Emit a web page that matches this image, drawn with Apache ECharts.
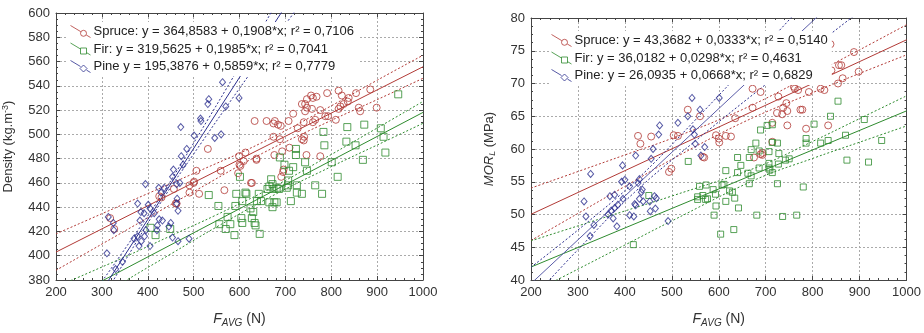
<!DOCTYPE html>
<html>
<head>
<meta charset="utf-8">
<script src="https://cdn.jsdelivr.net/npm/echarts@6/dist/echarts.min.js"></script>
<style>
html, body { margin: 0; background: #fff; }
#chart { width: 924px; height: 333px; }
</style>
</head>
<body>
<div id="chart"></div>
<script>
// 颜色
var cSpruce = '#b23a36', cFir = '#2e8b2e', cPine = '#2c2f8e';

// 左图: Density vs F_AVG
var spruceDensity = [[318,431],[327,422],[425,449],[430,448],[461,443],[457,455],[463,443],[491,458],[491,452],[500,460],[501,461],[506,470],[512,451],[531,488],[559,470],[567,454],[597,468],[600,475],[599,482],[613,485],[625,460],[637,479],[627,460],[602,474],[609,478],[633,511],[637,480],[659,511],[674,509],[677,511],[684,508],[690,507],[674,498],[688,496],[676,483],[693,486],[691,465],[696,471],[707,511],[709,489],[717,517],[727,505],[736,525],[743,525],[747,529],[747,522],[743,519],[756,532],[760,530],[758,521],[740,510],[760,510],[765,512],[736,496],[740,495],[741,498],[746,483],[768,531],[776,520],[787,515],[793,515],[791,534],[776,482],[810,512],[816,521],[820,523],[816,536],[823,532],[827,525],[836,527],[838,530],[854,534],[860,522],[863,519],[885,537],[899,522],[695,469]];
var firDensity = [[406,423],[417,417],[449,422],[533,450],[554,441],[556,426],[570,422],[574,432],[580,426],[589,417],[591,441],[593,451],[601,465],[604,431],[606,427],[606,445],[613,452],[615,451],[624,439],[627,431],[630,436],[633,427],[635,425],[638,445],[642,451],[644,418],[647,445],[661,455],[665,457],[665,444],[669,463],[672,459],[672,440],[674,455],[676,444],[681,456],[681,444],[686,455],[688,481],[698,475],[703,456],[706,462],[706,458],[708,470],[712,445],[717,473],[723,488],[723,483],[725,458],[725,452],[736,451],[743,477],[747,470],[765,458],[780,451],[783,502],[785,491],[801,477],[814,465],[833,494],[835,506],[853,491],[869,479],[872,508],[908,505],[914,498],[918,485],[946,533]];
var pineDensity = [[311,402],[314,432],[325,427],[326,421],[330,389],[345,395],[370,414],[378,416],[378,443],[381,408],[383,429],[385,436],[386,412],[392,435],[393,416],[395,459],[396,421],[401,442],[405,439],[405,408],[414,435],[420,421],[421,425],[424,456],[425,430],[429,452],[432,429],[436,456],[446,424],[450,427],[454,415],[454,465],[456,471],[463,459],[463,443],[464,447],[466,437],[466,412],[470,460],[472,506],[473,482],[477,475],[485,488],[490,414],[501,499],[515,513],[516,511],[531,525],[533,529],[546,497],[560,500],[563,543],[570,523],[599,530]];

// 回归线与置信带
var spruceDensityFit = [[200,403.0],[1000,555.7]];
var spruceDensityUp = [[200,418],[300,434.6],[400,451.2],[500,467.8],[650,493.4],[800,523.5],[900,544.6],[1000,565.2]];
var spruceDensityLo = [[200,388],[300,409.6],[400,431.2],[500,452.8],[650,484.4],[800,511.5],[900,528.6],[1000,546.2]];
var firDensityFit = [[200,359.3],[1000,518.1]];
var firDensityUp = [[200,374.3],[350,399.0],[450,416.4],[550,433.7],[680,458.0],[800,483.4],[900,505.2],[1000,527.1]];
var firDensityLo = [[200,344.0],[350,379.0],[450,401.4],[550,423.7],[680,451.0],[800,473.4],[900,491.2],[1000,509.1]];
var pineDensityFit = [[300,371.2],[750,634.8]];
var pineDensityUp = [[300,378.7],[350,405.5],[430,449.8],[500,492.8],[600,555.9],[700,620.5],[750,653.0]];
var pineDensityLo = [[300,363.7],[350,395.5],[430,444.8],[500,483.8],[600,537.9],[700,590.5],[750,616.8]];

// 右图: MOR vs F_AVG
var spruceMor = [[428,62],[433,60.8],[456,61.9],[494,56.5],[499,57],[504,62.1],[513,62],[534,66],[560,65],[566,58.8],[569,58.7],[594,62.1],[600,61.6],[601,61],[615,62],[626,61.9],[635,64.7],[672,66.3],[672,69.2],[675,58.7],[689,68.7],[689,59.2],[693,59.4],[707,70.5],[714,64],[714,61.1],[724,65.5],[727,68],[735,65.3],[737,66.3],[744,67],[746,65.8],[746,63.6],[757,70.4],[760,69.5],[762,69.2],[769,69],[774,66],[778,66],[786,63.1],[792,68.7],[817,69.2],[825,69],[833,63.6],[838,76],[840,72],[854,70],[856,72.8],[861,72.8],[864,70.8],[888,74.8],[898,71.8],[693,59.1]];
var firMor = [[418,45.4],[451,52.9],[535,58.1],[555,52.7],[555,52.3],[559,54.3],[566,52.9],[572,52.3],[573,54.5],[576,52.4],[588,53.8],[590,49.9],[593,53.1],[594,51.3],[604,47],[607,54.5],[611,54.6],[615,56.7],[615,52],[623,53.6],[629,53.4],[632,47.7],[634,52.5],[640,58.7],[640,56.4],[642,51],[647,57.5],[662,56.3],[665,58.7],[665,54.7],[669,59.9],[669,55.9],[679,60.9],[681,49.9],[686,59.7],[686,57.1],[689,62.9],[703,63.6],[707,59.6],[707,57.8],[707,57.1],[709,56.8],[714,63.7],[714,61],[714,56.4],[725,60.9],[725,54.7],[727,57.7],[728,59.3],[736,49.7],[742,58.3],[750,58.5],[766,49.9],[780,54.2],[786,61.6],[786,60.9],[803,63.8],[817,60.9],[833,61.3],[838,65],[854,67.3],[870,62.1],[873,58.3],[910,64.5],[919,58],[947,61.3]];
var pineMor = [[313,52],[317,49.7],[326,46.7],[327,56.2],[334,48.4],[364,50],[368,52.8],[371,50.6],[375,49.4],[378,53],[378,51],[383,48.2],[385,51.5],[393,55],[395,57.5],[396,52.4],[400,55.3],[410,54.3],[410,49.9],[419,49.7],[421,51.6],[423,59],[423,51.4],[428,54.8],[431,55.4],[431,52.4],[435,53.4],[437,53.8],[439,52],[453,52],[454,50.5],[456,58.5],[460,60],[463,52.8],[465,50.9],[467,52.5],[472,62.2],[474,63.6],[492,49],[513,64],[534,65],[543,67.8],[545,63],[548,62.2],[550,60.8],[560,66],[562,59],[570,60.3],[601,67.8]];

var spruceMorFit = [[200,50.03],[1000,76.67]];
var spruceMorUp = [[200,54.03],[300,56.56],[400,59.09],[500,61.62],[650,66.01],[800,71.41],[900,75.14],[1000,78.97]];
var spruceMorLo = [[200,46.03],[300,50.16],[400,54.29],[500,58.42],[650,64.01],[800,68.61],[900,71.54],[1000,74.37]];
var firMorFit = [[200,41.98],[1000,65.82]];
var firMorUp = [[200,45.98],[300,48.26],[400,50.54],[500,52.82],[680,57.18],[800,61.16],[900,64.64],[1000,68.12]];
var firMorLo = [[200,37.98],[300,41.66],[400,45.34],[500,49.02],[680,55.38],[800,58.56],[900,61.04],[1000,63.52]];
var pineMorFit = [[200,39.45],[900,86.21]];
var pineMorUp = [[200,41.95],[300,47.63],[420,54.95],[550,64.43],[700,75.85],[800,83.63],[900,91.41]];
var pineMorLo = [[200,36.95],[300,44.63],[420,53.35],[550,61.23],[700,69.85],[800,75.43],[900,81.01]];

var namesDensity = ['Spruce: y = 364,8583 + 0,1908*x; r² = 0,7106', 'Fir: y = 319,5625 + 0,1985*x; r² = 0,7041', 'Pine y = 195,3876 + 0,5859*x; r² = 0,7779'];
var namesMor = ['Spruce: y = 43,3682 + 0,0333*x; r² = 0,5140', 'Fir: y = 36,0182 + 0,0298*x; r² = 0,4631', 'Pine: y = 26,0935 + 0,0668*x; r² = 0,6829'];

var iconCircle = 'path://M0,0L10.2,6.1M15.8,9.5L20,12M16,7.8A3,3,0,1,1,10,7.8A3,3,0,1,1,16,7.8Z';
var iconRect = 'path://M0,0L10,6M16,9.6L20,12M10,5L16,5L16,11L10,11Z';
var iconDiamond = 'path://M0,0L10,6M16,9.6L20,12M13,4.5L16.5,8L13,11.5L9.5,8Z';

var font = 'Liberation Sans, Arial, sans-serif';

function scatter(name, data, symbol, size, color, i) {
    return {
        name: name, type: 'scatter', xAxisIndex: i, yAxisIndex: i,
        data: data, symbol: symbol, symbolSize: size, z: 3,
        itemStyle: { color: 'rgba(0,0,0,0)', borderColor: color, borderWidth: 1 }
    };
}
function fit(data, color, dotted, i) {
    return {
        type: 'line', xAxisIndex: i, yAxisIndex: i, data: data,
        symbol: 'none', smooth: dotted ? 0.4 : false, silent: true, z: 2,
        lineStyle: { color: color, width: 1, type: dotted ? [2, 2] : 'solid' }
    };
}
function xAx(grid, pos) {
    var main = pos === 'bottom';
    return {
        type: 'value', gridIndex: grid, position: pos, min: 200, max: 1000, interval: 100,
        name: main ? '{i|F}{s|AVG}{n| (N)}' : '', nameLocation: 'middle', nameGap: 31,
        nameTextStyle: { color: '#333', fontFamily: font, rich: {
            i: { fontStyle: 'italic', fontSize: 14, color: '#333', fontFamily: font },
            s: { fontStyle: 'italic', fontSize: 10, color: '#333', fontFamily: font, padding: [7, 0, 0, 0] },
            n: { fontSize: 14, color: '#333', fontFamily: font } } },
        axisLine: { show: true, onZero: false, lineStyle: { color: '#444', width: 1 } },
        axisTick: { show: true, inside: true, length: 4, lineStyle: { color: '#444' } },
        minorTick: { show: true, splitNumber: 5, length: 2, lineStyle: { color: '#444' } },
        axisLabel: { show: main, color: '#333', fontSize: 13, margin: 6, fontFamily: font,
            formatter: function (v) { return String(v); } },
        splitLine: { show: main, lineStyle: { color: '#aaaaaa', type: [2, 2] } }
    };
}
function yAx(grid, pos, min, max, step, name, gap) {
    var main = pos === 'left';
    return {
        type: 'value', gridIndex: grid, position: pos, min: min, max: max, interval: step,
        name: main ? name : '', nameLocation: 'middle', nameRotate: 90, nameGap: gap,
        nameTextStyle: { color: '#333', fontSize: 13, fontFamily: font, rich: {
            i: { fontStyle: 'italic', fontSize: 13, color: '#333', fontFamily: font },
            s: { fontStyle: 'italic', fontSize: 9, color: '#333', fontFamily: font, padding: [6, 0, 0, 0] },
            sup: { fontSize: 9, color: '#333', fontFamily: font, padding: [0, 0, 6, 0] },
            n: { fontSize: 13, color: '#333', fontFamily: font } } },
        axisLine: { show: true, onZero: false, lineStyle: { color: '#444', width: 1 } },
        axisTick: { show: true, inside: true, length: 4, lineStyle: { color: '#444' } },
        minorTick: { show: true, splitNumber: 4, length: 2, lineStyle: { color: '#444' } },
        axisLabel: { show: main, color: '#333', fontSize: 13, margin: 6, fontFamily: font,
            formatter: function (v) { return String(v); } },
        splitLine: { show: main, lineStyle: { color: '#aaaaaa', type: [2, 2] } }
    };
}
function legend(names, left, top) {
    var icons = [iconCircle, iconRect, iconDiamond];
    var colors = [cSpruce, cFir, cPine];
    return {
        orient: 'vertical', left: left, top: top, itemWidth: 20, itemHeight: 12, itemGap: 4.5,
        backgroundColor: '#fff', padding: [3, 4, 3, 2], selectedMode: false,
        textStyle: { color: '#222', fontSize: 13, fontFamily: font, padding: [0, 0, 0, -2] },
        data: names.map(function (n, k) {
            return { name: n, icon: icons[k],
                itemStyle: { color: 'rgba(0,0,0,0)', borderColor: colors[k], borderWidth: 1 } };
        })
    };
}

var chart = echarts.init(document.getElementById('chart'));
chart.setOption({
    backgroundColor: '#fff',
    animation: false,
    grid: [
        { left: 55, top: 13, width: 368, height: 271 },
        { left: 531, top: 18, width: 377, height: 273 }
    ],
    legend: [legend(namesDensity, 68, 22), legend(namesMor, 549, 31)],
    xAxis: [xAx(0, 'bottom'), xAx(0, 'top'), xAx(1, 'bottom'), xAx(1, 'top')],
    yAxis: [
        yAx(0, 'left', 380, 600, 20, 'Density (kg.m{sup|-3})', 40),
        yAx(0, 'right', 380, 600, 20, '', 0),
        yAx(1, 'left', 40, 80, 5, '{i|MOR}{s|L}{n| (MPa)}', 34),
        yAx(1, 'right', 40, 80, 5, '', 0)
    ],
    series: [
        fit(spruceDensityFit, cSpruce, false, 0), fit(spruceDensityUp, cSpruce, true, 0), fit(spruceDensityLo, cSpruce, true, 0),
        fit(firDensityFit, cFir, false, 0), fit(firDensityUp, cFir, true, 0), fit(firDensityLo, cFir, true, 0),
        fit(pineDensityFit, cPine, false, 0), fit(pineDensityUp, cPine, true, 0), fit(pineDensityLo, cPine, true, 0),
        scatter(namesDensity[0], spruceDensity, 'circle', 7, cSpruce, 0),
        scatter(namesDensity[1], firDensity, 'rect', 7, cFir, 0),
        scatter(namesDensity[2], pineDensity, 'diamond', [6, 7], cPine, 0),

        fit(spruceMorFit, cSpruce, false, 2), fit(spruceMorUp, cSpruce, true, 2), fit(spruceMorLo, cSpruce, true, 2),
        fit(firMorFit, cFir, false, 2), fit(firMorUp, cFir, true, 2), fit(firMorLo, cFir, true, 2),
        fit(pineMorFit, '#5a5ca8', false, 2), fit(pineMorUp, cPine, true, 2), fit(pineMorLo, cPine, true, 2),
        scatter(namesMor[0], spruceMor, 'circle', 7, cSpruce, 2),
        scatter(namesMor[1], firMor, 'rect', 6, cFir, 2),
        scatter(namesMor[2], pineMor, 'diamond', [6, 7], cPine, 2)
    ]
});
</script>
</body>
</html>
